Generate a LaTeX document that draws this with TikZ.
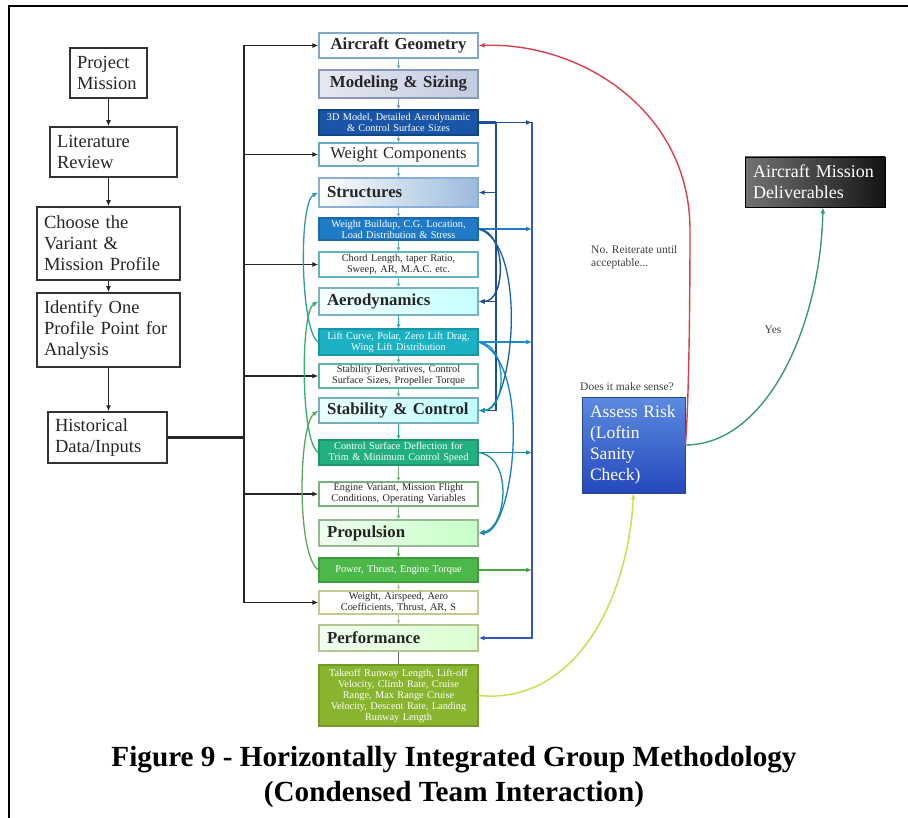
\documentclass[tikz,border=0pt]{standalone}
\usepackage{fontspec}
\setmainfont{Liberation Serif}
\usetikzlibrary{arrows.meta}
\definecolor{agb}{HTML}{7FA7C9}
\definecolor{msb}{HTML}{8797C0}
\definecolor{m3d}{HTML}{1A55A8}
\definecolor{wcb}{HTML}{6AAAC6}
\definecolor{stb}{HTML}{8AAFD6}
\definecolor{wbf}{HTML}{1F7BC6}
\definecolor{clb}{HTML}{5FB5C0}
\definecolor{aeb}{HTML}{7FB0BE}
\definecolor{lcf}{HTML}{1BB1C2}
\definecolor{sdb}{HTML}{5DB8A2}
\definecolor{scb}{HTML}{78AEBC}
\definecolor{csdf}{HTML}{22B07E}
\definecolor{evb}{HTML}{78B478}
\definecolor{prb}{HTML}{98B898}
\definecolor{ptf}{HTML}{4DB84A}
\definecolor{wab}{HTML}{C2CA92}
\definecolor{pfb}{HTML}{B4C48E}
\definecolor{tof}{HTML}{88B42E}
\definecolor{dkblue}{HTML}{1F4E9A}
\definecolor{midblue}{HTML}{3558B8}
\definecolor{redc}{HTML}{D8404E}
\definecolor{greenc}{HTML}{3A9A6C}
\definecolor{yelc}{HTML}{CADF52}
\definecolor{artop}{HTML}{5C8BE0}
\definecolor{arbot}{HTML}{2548BC}
\begin{document}
\begin{tikzpicture}[x=1pt,y=-1pt,
  lbox/.style={draw=black!80, line width=1.5pt, fill=white, align=left, inner xsep=7pt, inner ysep=0pt, font=\fontsize{18.5}{21}\selectfont, text=black!85},
  cbox/.style={line width=1.3pt, inner xsep=8pt, inner ysep=0pt, text width=143pt},
  ttl/.style={cbox, font=\bfseries\fontsize{16.8}{20}\selectfont, text=black!85},
  sml/.style={line width=1.3pt, inner xsep=4pt, inner ysep=0pt, text width=151pt, align=center, font=\fontsize{10.3}{11}\selectfont},
  arr/.style={-{Latex[length=6pt,width=5pt]}},
  sarr/.style={-{Latex[length=4pt,width=4pt]}, line width=1.2pt},
  bus/.style={line width=1.6pt, draw=black!85},
  lbl/.style={font=\fontsize{11.5}{13}\selectfont, text=black!75, inner sep=0pt}
]
\useasboundingbox (0,0) rectangle (908,818);
\fill[white] (0,0) rectangle (908,818);
\draw[line width=2pt] (908,6) -- (9,6) -- (9,818);

% left column
\node[lbox, text width=63pt, minimum height=50pt] (pm) at (108.5,73) {Project\\Mission};
\node[lbox, text width=113pt, minimum height=50pt] (lr) at (113.5,152) {Literature\\Review};
\node[lbox, text width=129pt, minimum height=73pt] (cv) at (108.5,243.5) {Choose the\\Variant \&\\Mission Profile};
\node[lbox, text width=129pt, minimum height=74pt] (ip) at (108.5,330) {Identify One\\Profile Point for\\Analysis};
\node[lbox, text width=105pt, minimum height=51pt] (hd) at (107.5,437.5) {Historical\\Data/Inputs};
\draw[arr, bus] (pm.south) -- (pm.south |- lr.north);
\draw[arr, bus] (pm.south |- lr.south) -- (pm.south |- cv.north);
\draw[arr, bus] (pm.south |- cv.south) -- (pm.south |- ip.north);
\draw[arr, bus] (pm.south |- ip.south) -- (pm.south |- hd.north);

% center column
\node[ttl, align=center, draw=agb, fill=white, minimum height=25pt] (ag) at (398.5,45.5) {Aircraft Geometry};
\node[ttl, align=center, draw=msb, left color=msb!22, right color=msb!50, minimum height=28pt] (ms) at (398.5,84) {Modeling \& Sizing};
\node[sml, draw=m3d!80!black, fill=m3d, text=white, minimum height=25pt] (m3) at (398.5,122.5) {3D Model, Detailed Aerodynamic\\\& Control Surface Sizes};
\node[cbox, align=center, draw=wcb, fill=white, font=\fontsize{16.5}{19}\selectfont, text=black!85, minimum height=23pt] (wc) at (398.5,154.5) {Weight Components};
\node[ttl, align=left, draw=stb, left color=white, right color=stb!85, minimum height=29pt] (st) at (398.5,192.5) {Structures};
\node[sml, draw=wbf!85!black, fill=wbf, text=white, minimum height=22pt] (wb) at (398.5,229) {Weight Buildup, C.G. Location,\\Load Distribution \& Stress};
\node[sml, draw=clb, fill=white, text=black!85, minimum height=25pt] (cl) at (398.5,264.5) {Chord Length, taper Ratio,\\Sweep, AR, M.A.C. etc.};
\node[ttl, align=left, draw=aeb, left color=cyan!4, right color=cyan!22, minimum height=27pt] (ae) at (398.5,301.5) {Aerodynamics};
\node[sml, draw=lcf!85!black, fill=lcf, text=white, minimum height=26pt] (lc) at (398.5,342) {Lift Curve, Polar, Zero Lift Drag,\\Wing Lift Distribution};
\node[sml, draw=sdb, fill=white, text=black!85, minimum height=24pt] (sd) at (398.5,376) {Stability Derivatives, Control\\Surface Sizes, Propeller Torque};
\node[ttl, align=left, draw=scb, left color=cyan!8, right color=cyan!25, minimum height=25pt] (sc) at (398.5,410.5) {Stability \& Control};
\node[sml, draw=csdf!85!black, fill=csdf, text=white, minimum height=25pt] (csd) at (398.5,452.5) {Control Surface Deflection for\\Trim \& Minimum Control Speed};
\node[sml, draw=evb, fill=white, text=black!85, minimum height=24pt] (ev) at (398.5,494) {Engine Variant, Mission Flight\\Conditions, Operating Variables};
\node[ttl, align=left, draw=prb, left color=green!6, right color=green!22, minimum height=26pt] (pr) at (398.5,533) {Propulsion};
\node[sml, draw=ptf!85!black, fill=ptf, text=white, minimum height=24pt] (pt) at (398.5,570) {Power, Thrust, Engine Torque};
\node[sml, draw=wab, fill=white, text=black!85, minimum height=23pt] (wa) at (398.5,602.5) {Weight, Airspeed, Aero\\Coefficients, Thrust, AR, S};
\node[ttl, align=left, draw=pfb, left color=yellow!8!green!6, right color=yellow!20!green!18, minimum height=26pt] (pf) at (398.5,638) {Performance};
\node[sml, draw=tof!85!black, fill=tof, text=white, minimum height=61pt] (to) at (398.5,695.5) {Takeoff Runway Length, Lift-off\\Velocity, Climb Rate, Cruise\\Range, Max Range Cruise\\Velocity, Descent Rate, Landing\\Runway Length};

% small down arrows
\foreach \a/\b/\c in {ag/ms/agb, ms/m3/msb, m3/wc/wcb, wc/st/wcb, st/wb/stb, wb/cl/clb, cl/ae/clb, ae/lc/lcf, lc/sd/sdb, sd/sc/sdb, sc/csd/csdf, csd/ev/evb, ev/pr/evb, pr/pt/ptf, pt/wa/wab, wa/pf/pfb}
  \draw[sarr, draw=\c] (\a.south) -- (\b.north);
\draw[line width=1.2pt, draw=black!60] (pf.south) -- (to.north);

% bus from historical data
\coordinate (bt) at (244,45.5);
\coordinate (bb) at (244,602.5);
\draw[line width=3pt, draw=black!85] (hd.east) -- (hd.east -| bt);
\draw[bus] (bt) -- (bb);
\foreach \n in {ag,wc,cl,sd,ev,wa}
  \draw[arr, bus] (\n.west -| bt) -- (\n.west);

% right-hand collector buses
\coordinate (r1t) at (496,122.5);
\coordinate (r1b) at (496,410.5);
\coordinate (r2t) at (532,122.5);
\coordinate (r2b) at (532,638);
\draw[line width=3pt, draw=dkblue] (m3.east) -- (r1t);
\draw[arr, line width=1.5pt, draw=dkblue] (m3.east) -- (r2t);
\draw[line width=2.2pt, draw=dkblue] (r1t) -- (r1b);
\draw[arr, line width=1.5pt, draw=midblue] (r2t) -- (r2b) -- (pf.east);
\draw[arr, line width=1.5pt, draw=dkblue] (st.east -| r1t) -- (st.east);
\draw[arr, line width=1.5pt, draw=dkblue] (ae.east -| r1t) -- (ae.east);
\draw[arr, line width=1.5pt, draw=dkblue] (sc.east -| r1t) -- (sc.east);
\draw[arr, line width=1.3pt, draw=wbf] (wb.east) -- (wb.east -| r2t);
\draw[arr, line width=1.3pt, draw=lcf!80!blue] (lc.east) -- (lc.east -| r2t);
\draw[arr, line width=1.3pt, draw=csdf!80!blue] (csd.east) -- (csd.east -| r2t);
\draw[arr, line width=1.3pt, draw=ptf!90!black] (pt.east) -- (pt.east -| r2t);

% right-hand feedback curves
\draw[arr, line width=1.4pt, draw=dkblue] (wb.east) .. controls +(28,2) and +(28,0) .. (ae.east);
\draw[arr, line width=1.3pt, draw=wbf!80!black] (wb.east) .. controls +(50,15) and +(35,0) .. (sc.east);
\draw[arr, line width=1.3pt, draw=lcf!85!black] (lc.east) .. controls +(30,2) and +(28,0) .. (sc.east);
\draw[arr, line width=1.3pt, draw=lcf!70!blue] (lc.east) .. controls +(55,20) and +(35,0) .. (pr.east);
\draw[arr, line width=1.3pt, draw=csdf!80!blue] (csd.east) .. controls +(35,5) and +(28,-5) .. (pr.east);

% left-hand feedback curves
\draw[arr, line width=1.3pt, draw=lcf!80!black!90] (lc.west) .. controls +(-18,-10) and +(-20,10) .. (st.west);
\draw[arr, line width=1.3pt, draw=csdf!70!ptf] (csd.west) .. controls +(-18,-10) and +(-18,10) .. (ae.west);
\draw[arr, line width=1.3pt, draw=ptf!70!gray] (pt.west) .. controls +(-22,-15) and +(-20,15) .. (sc.west);

% right side
\node[draw=midblue!80!black, line width=0.8pt, top color=artop, bottom color=arbot, text=white, align=left, inner xsep=8pt, inner ysep=0pt, text width=87pt, minimum height=96pt, font=\fontsize{17.5}{21}\selectfont] (ar) at (633.5,445) {Assess Risk\\(Loftin\\Sanity\\Check)};
\node[draw=black, line width=0.8pt, left color=black!55, right color=black!92, text=white, align=left, inner xsep=8pt, inner ysep=0pt, text width=124pt, minimum height=50pt, font=\fontsize{18}{21}\selectfont] (del) at (815,182) {Aircraft Mission\\Deliverables};
\node[lbl, anchor=base west] (q) at (580,391) {Does it make sense?};
\node[lbl, anchor=north west, align=left] (no) at (591,245) {No. Reiterate until\\acceptable...};
\node[lbl] (yes) at (773,330) {Yes};

\draw[arr, line width=1.4pt, draw=redc] (ar.east) .. controls (689,400) and (690,300) .. (690,230) .. controls (690,110) and (580,42) .. (ag.east);
\draw[arr, line width=1.4pt, draw=greenc] (ar.east) .. controls (765,445) and (820,330) .. ([xshift=8pt]del.south);
\draw[arr, line width=1.5pt, draw=yelc] (to.east) .. controls (575,705) and (628,600) .. (ar.south);

% caption
\node[font=\bfseries\fontsize{29.2}{35}\selectfont, anchor=base, inner sep=0pt] (cap1) at (454,766) {Figure 9 - Horizontally Integrated Group Methodology};
\node[font=\bfseries\fontsize{29.2}{35}\selectfont, anchor=base, inner sep=0pt] (cap2) at (454,801) {(Condensed Team Interaction)};
\end{tikzpicture}
\end{document}
